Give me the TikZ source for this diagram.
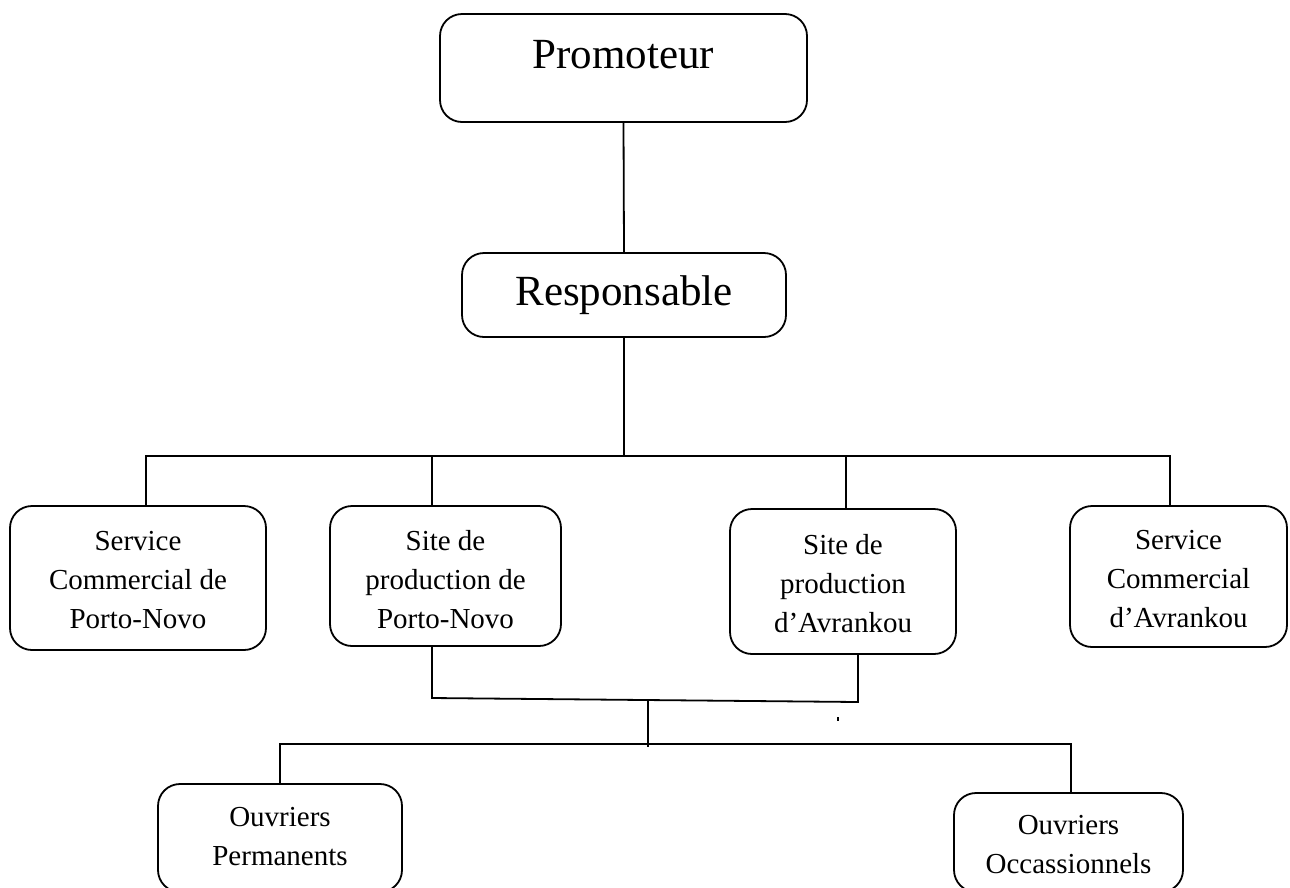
\documentclass[tikz,border=0pt]{standalone}
\usepackage{fontspec}
\setmainfont{Liberation Serif}
\begin{document}
\begin{tikzpicture}[x=1pt,y=-1pt,
  box/.style={draw, line width=1.8pt, rounded corners=22pt, inner sep=0pt, shape=rectangle},
  conn/.style={line width=1.8pt},
  bigtxt/.style={font=\fontsize{43}{50}\selectfont, inner sep=0pt, anchor=base},
  txt/.style={font=\fontsize{29}{39}\selectfont, align=center, inner sep=0pt, anchor=base}]
\useasboundingbox (0,0) rectangle (1290,887);
\begin{scope}
\clip (0,0) rectangle (1290,887);
% boxes
\node[box, minimum width=367pt, minimum height=108pt] (prom) at (623.5,68) {};
\node[box, minimum width=324pt, minimum height=84pt] (resp) at (624,295) {};
\node[box, minimum width=256pt, minimum height=144pt] (A) at (138,578) {};
\node[box, minimum width=231pt, minimum height=140pt] (B) at (445.5,576) {};
\node[box, minimum width=226pt, minimum height=145pt] (C) at (843,581.5) {};
\node[box, minimum width=217pt, minimum height=141pt] (D) at (1178.5,576.5) {};
\node[box, minimum width=244pt, minimum height=108pt] (E) at (280,838) {};
\node[box, minimum width=229pt, minimum height=99pt] (F) at (1068.5,842.5) {};
% texts (base anchor = last line baseline)
\node[bigtxt] (promT) at (623.5,68) {Promoteur};
\node[bigtxt] (respT) at (624,305) {Responsable};
\node[txt] (AT) at (138,628) {Service\\Commercial de\\Porto-Novo};
\node[txt] (BT) at (445.5,628) {Site de\\production de\\Porto-Novo};
\node[txt] (CT) at (843,632) {Site de\\production\\d’Avrankou};
\node[txt] (DT) at (1178.5,627) {Service\\Commercial\\d’Avrankou};
\node[txt] (ET) at (280,865) {Ouvriers\\Permanents};
\node[txt] (FT) at (1068.5,873) {Ouvriers\\Occassionnels};
% coordinates
\coordinate (jr) at (624,456);
\coordinate (busL) at (146,456);
\coordinate (busR) at (1170,456);
\coordinate (tB) at (432,456);
\coordinate (tC) at (846,456);
\coordinate (lB) at (432,698);
\coordinate (lC) at (858,702);
\coordinate (jm) at (648,700);
\coordinate (jd) at (648,747);
\coordinate (eL) at (280,744);
\coordinate (eR) at (1071,744);
% connectors
\draw[conn] (prom.south) -- (resp.north);
\draw[conn] (resp.south) -- (jr);
\draw[conn] (A.north -| busL) -- (busL) -- (busR) -- (D.north -| busR);
\draw[conn] (B.north -| tB) -- (tB);
\draw[conn] (C.north -| tC) -- (tC);
\draw[conn] (B.south -| lB) -- (lB) -- (lC) -- (C.south -| lC);
\draw[conn] (jm) -- (jd);
\draw[conn] (E.north -| eL) -- (eL) -- (eR) -- (F.north -| eR);
\fill (837,717) rectangle (839,721);
\end{scope}
\end{tikzpicture}
\end{document}
